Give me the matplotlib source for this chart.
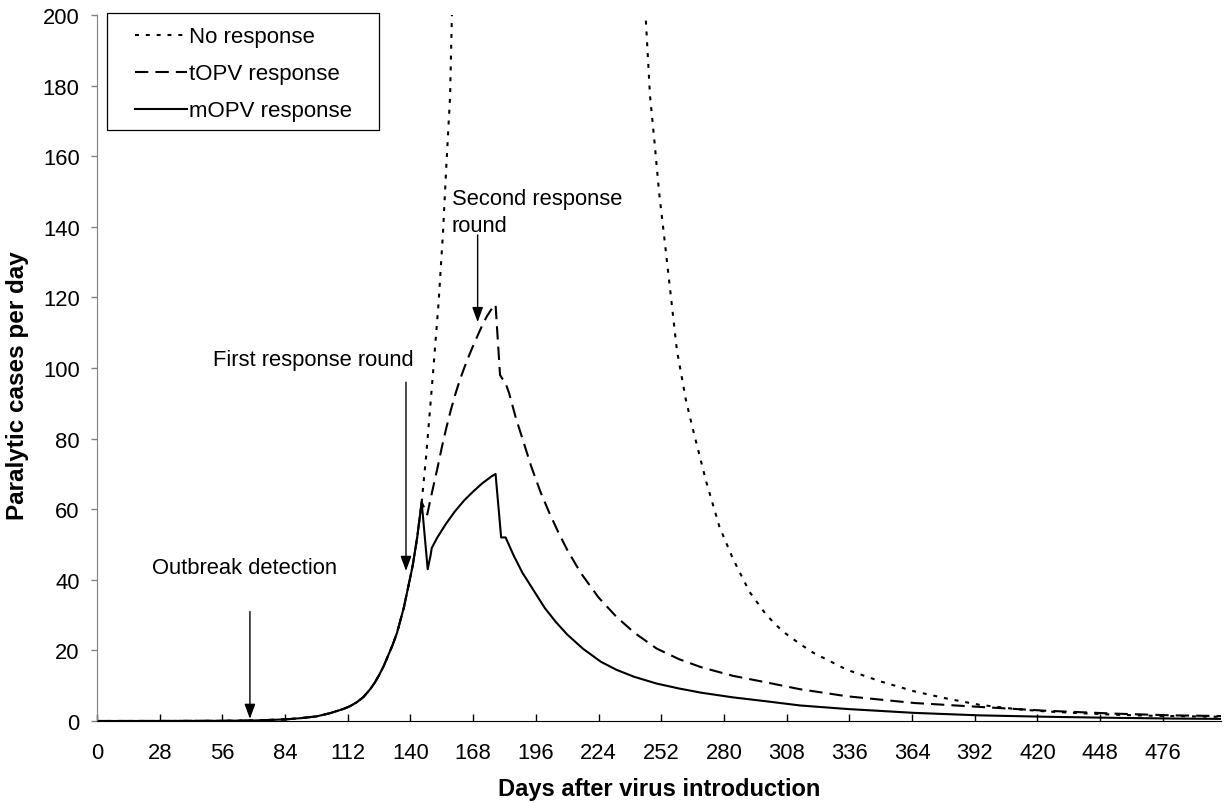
import numpy as np
import matplotlib
matplotlib.use("Agg")
import matplotlib.pyplot as plt
from matplotlib.lines import Line2D
from matplotlib.patches import Rectangle

plt.rcParams['font.family'] = ['Liberation Sans', 'DejaVu Sans']

# ---- data (days after introduction, cases/day) ----
early_days = [0, 28, 56, 70, 84, 91, 98, 104, 110, 113, 116, 119, 122, 124,
              126, 128, 130, 132, 134, 137, 139, 141, 143, 145]
early_vals = [0, 0.01, 0.05, 0.15, 0.45, 0.8, 1.3, 2.2, 3.4, 4.2, 5.3, 6.8,
              9.0, 10.8, 13, 15.5, 18.5, 21.5, 25, 32, 38, 44, 52, 62]

none_days = [147, 150, 152.5, 154.5, 156, 157.7, 158.5, 162, 200, 241, 245,
             247, 249, 251, 253, 256, 259, 263, 266, 272, 278, 284, 291.5,
             299, 306, 314, 320, 335, 350, 365, 380, 394, 410, 424, 440, 454,
             470, 490, 502]
none_vals = [75, 98, 118, 138, 157, 177, 200, 265, 620, 255, 200, 177, 164,
             150, 139, 122, 105, 91, 83, 68, 55, 46, 36.5, 30, 25.5, 21.8,
             19.3, 14.5, 11.2, 8.4, 6.3, 4.6, 3.4, 2.7, 2.2, 1.8, 1.5, 1.3,
             1.2]

topv_days = [147.5, 149, 152, 154, 156, 158, 160, 162, 164, 166, 168, 170,
             172, 174, 176, 178, 180, 181, 182, 184, 187, 190, 194, 198, 202,
             206, 210, 216, 224, 232, 240, 250, 260, 270, 284, 300, 314, 335,
             365, 394, 424, 454, 480, 502]
topv_vals = [58.5, 63, 71.5, 77.5, 83, 88, 92.5, 96.5, 100, 103.3, 106.3,
             109.2, 112, 114.5, 116.5, 118, 98, 97, 96.5, 93, 86, 80, 72, 65,
             59, 53.5, 48.5, 42, 35, 29.5, 25, 20.5, 17.5, 15.2, 12.8, 10.8, 9,
             7, 5.1, 4.0, 2.9, 2.1, 1.6, 1.4]

mopv_days = [147.7, 149, 149.5, 152, 156, 160, 164, 168, 172, 176, 178,
             180.5, 182.5, 186, 190, 195, 200, 205, 210, 217, 225, 232, 240,
             250, 260, 270, 284, 300, 314, 335, 365, 394, 424, 454, 480, 502]
mopv_vals = [43, 47, 49, 52, 56, 59.5, 62.5, 65, 67.3, 69.2, 70, 52, 52, 47,
             42, 37, 32, 28, 24.5, 20.5, 16.8, 14.5, 12.5, 10.6, 9.2, 8.0, 6.7,
             5.5, 4.4, 3.4, 2.3, 1.6, 1.2, 0.9, 0.7, 0.6]

xticks = list(range(0, 477, 28))
yticks = list(range(0, 201, 20))

FS = 15.8

fig = plt.figure(figsize=(12.25, 8.04), dpi=100)
ax = fig.add_axes([97 / 1225, 82 / 804, 1124 / 1225, 706 / 804])

lw = 1.5
dotted = (0, (1.9, 3.3))
dashed = (0, (6.4, 3.4))
ax.plot(early_days + none_days, early_vals + none_vals, color='black', lw=lw,
        linestyle=dotted)
ax.plot(early_days + topv_days, early_vals + topv_vals, color='black', lw=lw,
        linestyle=dashed)
ax.plot(early_days + mopv_days, early_vals + mopv_vals, color='black', lw=lw)

ax.set_xlim(0, 502)
ax.set_ylim(0, 200)
ax.set_xticks(xticks)
ax.set_yticks(yticks)
ax.spines['top'].set_visible(False)
ax.spines['right'].set_visible(False)
ax.spines['left'].set_color('#808080')
ax.spines['bottom'].set_color('black')
ax.tick_params(axis='x', direction='in', length=5, width=1, pad=15,
               labelsize=FS, colors='black')
ax.tick_params(axis='y', direction='out', length=4.5, width=1, pad=8,
               labelsize=FS, color='#808080', labelcolor='black')

fig.text(18 / 1225, 1 - 386 / 804, 'Paralytic cases per day', rotation=90,
         ha='center', va='center', fontsize=17.5, fontweight='bold')
fig.text(659 / 1225, 1 - 790 / 804, 'Days after virus introduction',
         ha='center', va='center', fontsize=17, fontweight='bold')

# annotations
arw = dict(arrowstyle='-|>,head_length=0.6,head_width=0.22',
           mutation_scale=15, color='black', lw=1, shrinkA=0, shrinkB=0)
ax.text(24.6, 43.6, 'Outbreak detection', fontsize=FS, ha='left', va='center')
ax.annotate('', xy=(68.3, 0.6), xytext=(68.3, 31), arrowprops=arw)
ax.text(51.8, 102.5, 'First response round', fontsize=FS, ha='left',
        va='center')
ax.annotate('', xy=(138, 42.5), xytext=(138, 96), arrowprops=arw)
ax.text(158.5, 144.2, 'Second response\nround', fontsize=FS, ha='left',
        va='center', linespacing=1.4)
ax.annotate('', xy=(170, 113), xytext=(170, 137.7), arrowprops=arw)

# legend
ax.add_patch(Rectangle((0.0089, 0.8371), 0.242, 0.1657, transform=ax.transAxes,
                       facecolor='white', edgecolor='black', lw=0.9,
                       clip_on=False, zorder=5))
handles = [
    Line2D([0], [0], color='black', lw=lw, linestyle=dotted),
    Line2D([0], [0], color='black', lw=lw, linestyle=dashed),
    Line2D([0], [0], color='black', lw=lw),
]
leg = ax.legend(handles, ['No response', 'tOPV response', 'mOPV response'],
                loc='upper left', bbox_to_anchor=(0.0338, 0.984),
                frameon=False, fontsize=16, handlelength=2.34,
                handletextpad=0.1, labelspacing=0.72, borderpad=0,
                borderaxespad=0)
leg.set_zorder(6)

fig.savefig('out.png', dpi=100)
